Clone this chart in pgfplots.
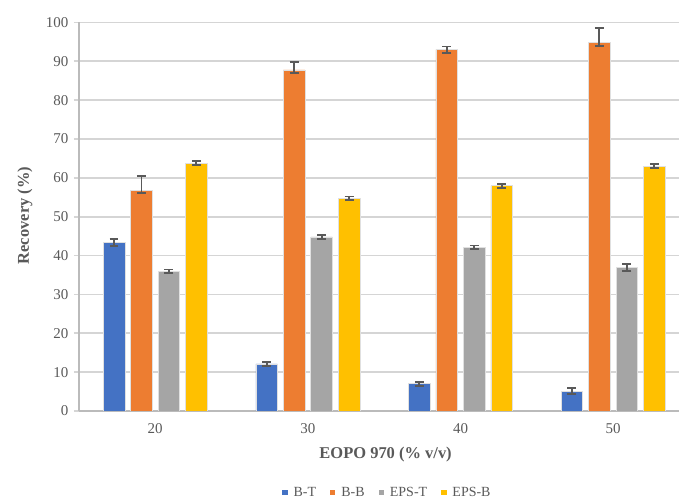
\documentclass[border=0pt]{standalone}
\usepackage{pgfplots}
\pgfplotsset{compat=1.18}
\usepackage{fontspec}
\setmainfont{Liberation Serif}
\definecolor{cBT}{HTML}{4472C4}
\definecolor{cBB}{HTML}{ED7D31}
\definecolor{cET}{HTML}{A5A5A5}
\definecolor{cEB}{HTML}{FFC000}
\definecolor{txt}{HTML}{595959}
\definecolor{gridc}{HTML}{D5D5D5}
\pgfplotsset{
  myerr/.style={
    error bars/.cd, y dir=both, y explicit,
    error bar style={line width=1.9pt, draw=txt},
    error mark options={rotate=90, mark size=4.5pt, line width=1.9pt, draw=txt},
  },
}
\begin{document}
\begin{tikzpicture}
\begin{axis}[
  at={(0pt,0pt)}, anchor=south west,
  scale only axis, width=601pt, height=389pt,
  xmin=-0.5, xmax=3.432, ymin=0, ymax=100,
  ybar, bar width=0.142,
  xtick={0,1,2,3}, xticklabels={20,30,40,50},
  ytick={0,10,...,100},
  /pgf/number format/assume math mode=true,
  ymajorgrids, grid style={line width=1.8pt, color=gridc},
  axis x line*=bottom, axis y line*=left,
  axis line style={line width=1.8pt, color=gridc!88!black},
  x tick style={draw=none},
  y tick style={line width=1.8pt, color=gridc},
  tick align=outside, major tick length=5pt,
  tick label style={font=\fontsize{15}{17}\selectfont, color=txt},
  yticklabel style={xshift=-2pt},
  xticklabel style={yshift=-4pt},
  xlabel={\textbf{EOPO 970 (\% v/v)}},
  ylabel={\textbf{Recovery (\%)}},
  label style={font=\fontsize{16.5}{18}\selectfont, color=txt},
  x label style={at={(axis description cs:0.511,-0.113)}, anchor=center},
  y label style={at={(axis description cs:-0.09,0.503)}, anchor=center},
  legend columns=4,
  legend style={at={(0.514,-0.2095)}, anchor=center, draw=none, fill=none,
    font=\fontsize{14}{16}\selectfont, text=txt,
    /tikz/every even column/.append style={column sep=12pt}},
  legend image code/.code={\fill[#1,draw=none] (0pt,-2.7pt) rectangle (5.4pt,2.7pt); \path (9pt,0pt);},
]
\addplot[ybar, bar shift=-0.27, fill=cBT, draw=black!12, line width=0.6pt, myerr] coordinates {
  (0,43.3) +- (0,0.9)
  (1,12.1) +- (0,0.6)
  (2,7.0) +- (0,0.5)
  (3,5.1) +- (0,0.7)
};
\addplot[ybar, bar shift=-0.09, fill=cBB, draw=black!12, line width=0.6pt, myerr] coordinates {
  (0,56.8) += (0,3.6) -= (0,0.7)
  (1,87.8) += (0,2.0) -= (0,0.7)
  (2,93.0) +- (0,0.8)
  (3,94.9) += (0,3.7) -= (0,0.9)
};
\addplot[ybar, bar shift=0.09, fill=cET, draw=black!12, line width=0.6pt, myerr] coordinates {
  (0,36.0) +- (0,0.4)
  (1,44.8) +- (0,0.5)
  (2,42.1) +- (0,0.5)
  (3,37.0) +- (0,0.9)
};
\addplot[ybar, bar shift=0.27, fill=cEB, draw=black!12, line width=0.6pt, myerr] coordinates {
  (0,63.8) +- (0,0.5)
  (1,54.8) +- (0,0.4)
  (2,58.0) +- (0,0.5)
  (3,63.0) +- (0,0.5)
};
\legend{B-T, B-B, EPS-T, EPS-B}
\end{axis}
\path[use as bounding box] (-79pt,-90.5pt) rectangle (601pt,411.5pt);
\end{tikzpicture}
\end{document}
